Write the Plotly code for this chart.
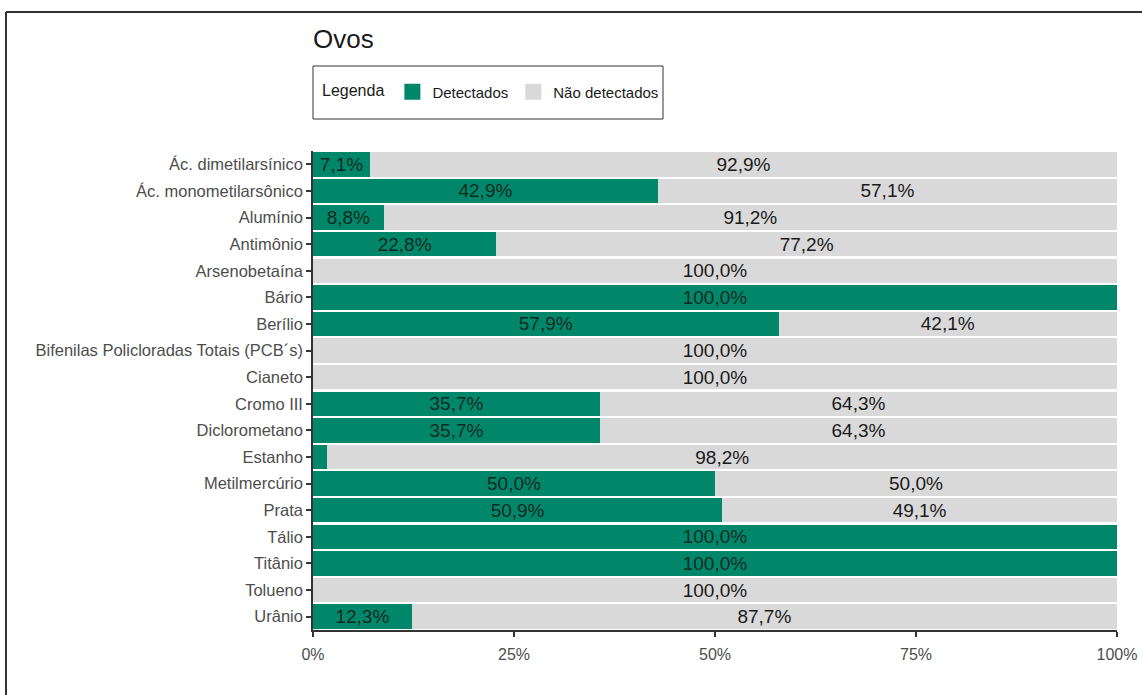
import plotly.graph_objects as go

categories = [
    "Ác. dimetilarsínico", "Ác. monometilarsônico", "Alumínio", "Antimônio",
    "Arsenobetaína", "Bário", "Berílio", "Bifenilas Policloradas Totais (PCB´s)",
    "Cianeto", "Cromo III", "Diclorometano", "Estanho", "Metilmercúrio",
    "Prata", "Tálio", "Titânio", "Tolueno", "Urânio",
]
detectados = [7.1, 42.9, 8.8, 22.8, 0.0, 100.0, 57.9, 0.0, 0.0, 35.7, 35.7, 1.8,
              50.0, 50.9, 100.0, 100.0, 0.0, 12.3]
nao_detectados = [92.9, 57.1, 91.2, 77.2, 100.0, 0.0, 42.1, 100.0, 100.0, 64.3,
                  64.3, 98.2, 50.0, 49.1, 0.0, 0.0, 100.0, 87.7]
x_ticks = [0, 25, 50, 75, 100]
x_tick_labels = ["0%", "25%", "50%", "75%", "100%"]
series_names = ["Detectados", "Não detectados"]


def fmt(v, min_show=5):
    if v < min_show:
        return ""
    return f"{v:.1f}".replace(".", ",") + "%"


GREEN = "#00876A"
GREY = "#D9D9D9"
FONT = "Liberation Sans, Arial, sans-serif"

fig = go.Figure()
fig.add_trace(go.Bar(
    y=categories, x=detectados, orientation="h", name=series_names[0],
    marker=dict(color=GREEN, line=dict(width=0)),
    text=[fmt(v) for v in detectados], textposition="inside",
    insidetextanchor="middle", constraintext="none",
    textfont=dict(size=19, color="rgba(20,30,25,0.92)", family=FONT),
    hoverinfo="skip", showlegend=False,
))
fig.add_trace(go.Bar(
    y=categories, x=nao_detectados, orientation="h", name=series_names[1],
    marker=dict(color=GREY, line=dict(width=0)),
    text=[fmt(v) for v in nao_detectados], textposition="inside",
    insidetextanchor="middle", constraintext="none",
    textfont=dict(size=19, color="#1a1a1a", family=FONT),
    hoverinfo="skip", showlegend=False,
))
# legend-only entries with larger square keys
for name, col in zip(series_names, [GREEN, GREY]):
    fig.add_trace(go.Scatter(
        x=[None], y=[None], mode="markers", name=name,
        marker=dict(symbol="square", size=19, color=col),
        hoverinfo="skip", showlegend=True,
    ))

W, H = 1142, 695
ml, mr, mt, mb = 313, 25, 151, 65
pw, ph = W - ml - mr, H - mt - mb


def px2x(px):
    return (px - ml) / pw


def py2y(py):
    return (H - mb - py) / ph


shapes = [
    dict(type="rect", xref="paper", yref="paper",
         x0=px2x(313), x1=px2x(663), y0=py2y(119), y1=py2y(66),
         line=dict(color="#333333", width=1), fillcolor="rgba(0,0,0,0)"),
    dict(type="line", xref="paper", yref="paper",
         x0=px2x(6), x1=px2x(1150), y0=py2y(12), y1=py2y(12),
         line=dict(color="#333333", width=2)),
    dict(type="line", xref="paper", yref="paper",
         x0=px2x(6), x1=px2x(6), y0=py2y(12), y1=py2y(700),
         line=dict(color="#333333", width=2)),
]

fig.update_layout(
    width=W, height=H,
    margin=dict(l=ml, r=mr, t=mt, b=mb, pad=0, autoexpand=False),
    barmode="stack", bargap=0.08,
    plot_bgcolor="white", paper_bgcolor="white",
    font=dict(family=FONT, color="#4d4d4d"),
    title=dict(text="Ovos", x=ml / W, xanchor="left",
               y=1 - 39 / H, yanchor="middle",
               font=dict(size=26, color="#1a1a1a", family=FONT)),
    showlegend=True,
    legend=dict(orientation="h", x=px2x(320), xanchor="left",
                y=py2y(92), yanchor="middle", traceorder="normal",
                valign="middle", itemsizing="trace",
                title=dict(text="Legenda", side="left",
                           font=dict(size=16, color="#1a1a1a")),
                font=dict(size=15, color="#1a1a1a"),
                bgcolor="rgba(0,0,0,0)", borderwidth=0),
    shapes=shapes,
    xaxis=dict(range=[0, 100], tickvals=x_ticks, ticktext=x_tick_labels,
               showgrid=False, zeroline=False, showline=True, automargin=False,
               linecolor="#333333", linewidth=1.5,
               ticks="outside", ticklen=5, tickcolor="#333333", tickwidth=1.5,
               ticklabelstandoff=4,
               tickfont=dict(size=16, color="#4d4d4d"), fixedrange=True),
    yaxis=dict(categoryorder="array", categoryarray=categories,
               autorange="reversed", showgrid=False, zeroline=False,
               showline=True, automargin=False,
               linecolor="#333333", linewidth=1.5,
               ticks="outside", ticklen=5, tickcolor="#333333", tickwidth=1.5,
               tickfont=dict(size=16.5, color="#4d4d4d"), fixedrange=True),
)

fig.write_html("out.html")
